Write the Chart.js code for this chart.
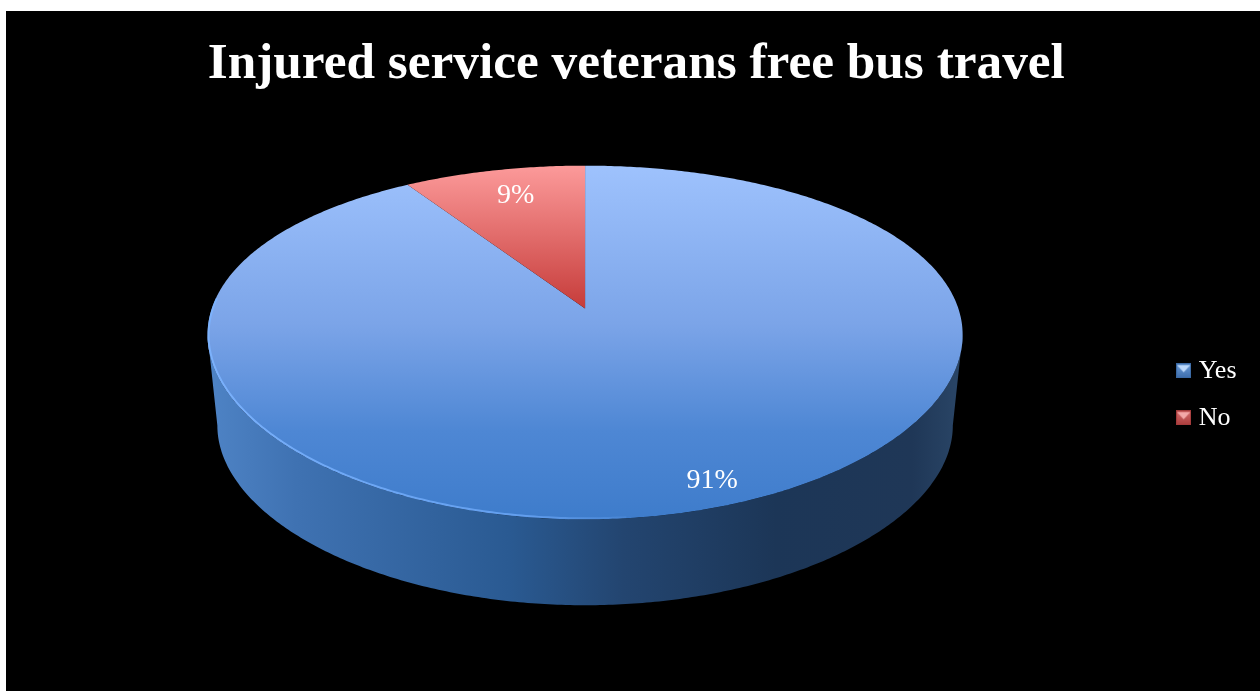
<!DOCTYPE html>
<html>
<head>
<meta charset="utf-8">
<title>Injured service veterans free bus travel</title>
<script src="https://cdn.jsdelivr.net/npm/chart.js@4/dist/chart.umd.min.js"></script>
<style>
  html, body { margin: 0; background: #fff; }
  #pie { position: absolute; left: 6px; top: 11px; background: #000; }
</style>
</head>
<body>
<canvas id="pie" width="1254" height="680"></canvas>
<script>
const chartTitle = 'Injured service veterans free bus travel';
const categories = ['Yes', 'No'];
const shares = [91, 9];
const valueLabels = ['91%', '9%'];

const serifFace = '"Liberation Serif", serif';

// Vertical shading of each slice's top face.
const faceStops = [
  [[0, '#9ec2fd'], [0.45, '#7ba4e8'], [0.75, '#4e87d4'], [1, '#3e7ccb']],
  [[0, '#fc9a9a'], [1, '#c63c3a']]
];
// Horizontal shading of the outer wall, left to right.
const wallStops = [[0, '#4f84c6'], [0.12, '#3f72b2'], [0.4, '#2a5a92'], [0.55, '#234570'],
                   [0.75, '#1c3657'], [0.93, '#1f3757'], [1, '#2b4768']];
// Radial position of each value label, with a sideways nudge (in radii).
const labelReach = [0.88, 0.79];
const labelNudge = [0.075, 0.015];
const markerColours = [
  { edge: '#3a68a2', top: '#6a9ad6', bottom: '#3f6fae', cap: '#bcd8fb' },
  { edge: '#a23a3a', top: '#d26a6a', bottom: '#ae4040', cap: '#f3a8a8' }
];

// Disc proportions, as fractions of the library's pie radius.
const TILT = { a: 1.258, b: 0.596, lift: 0.1145, kx: 0.15, ky: 0.192, rise: 0.1745, sway: 0.0278 };
const WALL = { scale: 0.974, drop: 0.305 };

// Maps an angle on the flat pie to the tilted disc, with perspective foreshortening.
function project(arc, angle, reach, level) {
  const R = arc.outerRadius;
  const u = Math.cos(angle) * reach;
  const v = -Math.sin(angle) * reach;
  const scale = level ? WALL.scale : 1;
  const cx = arc.x - TILT.sway * R;
  const cy = arc.y - TILT.rise * R + (level ? WALL.drop * R : 0);
  return {
    x: cx + scale * TILT.a * R * u / (1 + TILT.kx * v),
    y: cy - scale * R * (TILT.b * v + TILT.lift) / (1 + TILT.ky * v)
  };
}

function rimPoints(arc, from, to, level) {
  const steps = Math.max(8, Math.ceil(Math.abs(to - from) / 0.01));
  const pts = [];
  for (let i = 0; i <= steps; i++) {
    pts.push(project(arc, from + (to - from) * i / steps, 1, level));
  }
  return pts;
}

function gradient(ctx, x0, y0, x1, y1, stops) {
  const g = ctx.createLinearGradient(x0, y0, x1, y1);
  stops.forEach(s => g.addColorStop(s[0], s[1]));
  return g;
}

function trace(ctx, pts) {
  pts.forEach((p, i) => (i ? ctx.lineTo(p.x, p.y) : ctx.moveTo(p.x, p.y)));
}

const tiltedDisc = {
  id: 'tiltedDisc',
  beforeDatasetDraw(chart, args) {
    const ctx = chart.ctx;
    const arcs = args.meta.data;
    const ref = arcs[0];
    const R = ref.outerRadius;
    const hubX = ref.x - TILT.sway * R;
    const left = hubX - TILT.a * R * 1.02;
    const right = hubX + TILT.a * R * 1.02;
    const discTop = project(ref, -Math.PI / 2, 1, 0).y;
    const discBottom = project(ref, Math.PI / 2, 1, 0).y;
    ctx.save();

    // Outer wall: the visible front part between the upper and lower rims.
    const edge = Math.asin(TILT.kx);
    const upper = rimPoints(ref, edge, Math.PI - edge, 0);
    const lower = rimPoints(ref, Math.PI - edge, edge, 1);
    ctx.beginPath();
    trace(ctx, upper.concat(lower));
    ctx.closePath();
    ctx.fillStyle = gradient(ctx, left, 0, right, 0, wallStops);
    ctx.fill();

    // Top faces of the slices.
    arcs.forEach((arc, i) => {
      const pts = rimPoints(arc, arc.startAngle, arc.endAngle, 0);
      const hub = project(arc, 0, 0, 0);
      const ys = pts.map(p => p.y).concat(hub.y);
      ctx.beginPath();
      ctx.moveTo(hub.x, hub.y);
      pts.forEach(p => ctx.lineTo(p.x, p.y));
      ctx.closePath();
      ctx.fillStyle = i === 0
        ? gradient(ctx, 0, discTop, 0, discBottom, faceStops[i])
        : gradient(ctx, 0, Math.min(...ys), 0, Math.max(...ys), faceStops[i]);
      ctx.fill();
    });

    // Bright bevel along the lit part of the rim, kept inside the face.
    ctx.save();
    ctx.beginPath();
    trace(ctx, rimPoints(ref, 0, Math.PI * 2, 0));
    ctx.closePath();
    ctx.clip();
    ctx.beginPath();
    trace(ctx, rimPoints(ref, Math.PI * 0.47, Math.PI * 1.02, 0));
    ctx.lineWidth = 4;
    ctx.strokeStyle = gradient(ctx, left, 0, hubX + 0.25 * R, 0, [
      [0, 'rgba(125,180,255,0.9)'], [0.7, 'rgba(105,165,245,0.85)'], [1, 'rgba(105,165,245,0)']
    ]);
    ctx.stroke();
    ctx.restore();

    // Value labels.
    ctx.fillStyle = '#fff';
    ctx.font = '28px ' + serifFace;
    ctx.textAlign = 'center';
    ctx.textBaseline = 'middle';
    arcs.forEach((arc, i) => {
      const mid = (arc.startAngle + arc.endAngle) / 2;
      const p = project(arc, mid, labelReach[i], 0);
      ctx.fillText(valueLabels[i], p.x + labelNudge[i] * R, p.y);
    });

    ctx.restore();
    return false;
  }
};

// Small bevelled legend swatch.
function makeMarker(c) {
  const m = document.createElement('canvas');
  m.width = 15;
  m.height = 15;
  const g = m.getContext('2d');
  g.fillStyle = c.edge;
  g.fillRect(0, 0, 15, 15);
  const body = g.createLinearGradient(0, 1, 0, 14);
  body.addColorStop(0, c.top);
  body.addColorStop(1, c.bottom);
  g.fillStyle = body;
  g.fillRect(1, 1, 13, 13);
  g.fillStyle = c.cap;
  g.beginPath();
  g.moveTo(1, 2);
  g.lineTo(14, 2);
  g.lineTo(7.5, 9);
  g.closePath();
  g.fill();
  return m;
}
const markers = markerColours.map(makeMarker);

new Chart(document.getElementById('pie'), {
  type: 'pie',
  data: {
    labels: categories,
    datasets: [{
      data: shares,
      backgroundColor: ['#4f81bd', '#c0504d'],
      borderWidth: 0
    }]
  },
  options: {
    responsive: false,
    animation: false,
    layout: { padding: { left: 20, right: 13.5 } },
    plugins: {
      title: {
        display: true,
        text: chartTitle,
        color: '#fff',
        font: { family: serifFace, size: 51.3, weight: 'bold', lineHeight: 1.2 },
        padding: { top: 23, bottom: 2 }
      },
      legend: {
        position: 'right',
        fullSize: false,
        labels: {
          usePointStyle: true,
          pointStyleWidth: 4,
          padding: 21,
          color: '#fff',
          font: { family: serifFace, size: 26 },
          generateLabels: chart => chart.data.labels.map((text, i) => ({
            text,
            index: i,
            pointStyle: markers[i],
            fontColor: '#fff',
            lineWidth: 0
          }))
        }
      },
      tooltip: { enabled: false }
    }
  },
  plugins: [tiltedDisc]
});
</script>
</body>
</html>
